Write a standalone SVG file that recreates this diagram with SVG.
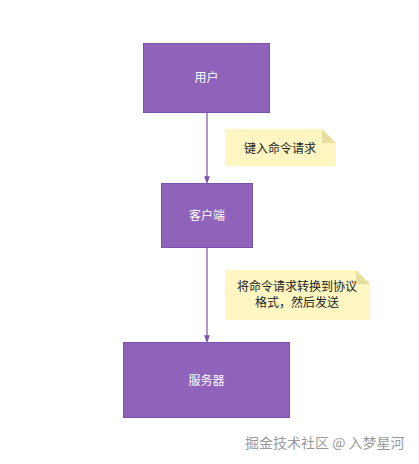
<svg xmlns="http://www.w3.org/2000/svg" width="419" height="464" viewBox="0 0 419 464">
<style>
.box{fill:#8e63b9;stroke:#7b52ad;stroke-width:1}
.bt{font-family:"Noto Sans CJK SC","Liberation Sans",sans-serif;font-size:12px;fill:#ffffff;text-anchor:middle}
.note{fill:#fff6c2;stroke:none}
.fold{fill:#e8dea0}
.nt{font-family:"Noto Sans CJK SC","Liberation Sans",sans-serif;font-size:12px;fill:#222222;text-anchor:middle}
.edge{stroke:#7b52ad;stroke-width:1.2;fill:none}
.wm{font-family:"Noto Sans CJK SC","Liberation Sans",sans-serif;font-size:14px;fill:#9a9a9a}
</style>
<defs>
<marker id="arr" markerWidth="8" markerHeight="11" refX="8" refY="4" orient="auto" markerUnits="userSpaceOnUse" viewBox="0 0 11 8">
<path d="M0,0 L11,4 L0,8 Z" fill="#7b52ad"/>
</marker>
</defs>
<rect width="419" height="464" fill="#ffffff"/>
<g id="connectors">
<line class="edge" x1="207" y1="112" x2="207" y2="182" marker-end="url(#arr)"/>
<line class="edge" x1="207" y1="247" x2="207" y2="341" marker-end="url(#arr)"/>
</g>
<g id="user">
<rect class="box" x="143.5" y="43.5" width="126" height="69"/>
<text class="bt" x="206.5" y="82">用户</text>
</g>
<g id="client">
<rect class="box" x="161.5" y="183.5" width="91" height="64"/>
<text class="bt" x="207" y="220">客户端</text>
</g>
<g id="server">
<rect class="box" x="123.5" y="342.5" width="166" height="75"/>
<text class="bt" x="206.5" y="385">服务器</text>
</g>
<g id="note1">
<path class="note" d="M225,129 H322 L336,143 V166 H225 Z"/>
<path class="fold" d="M322,129 L336,143 H322 Z"/>
<text class="nt" x="280" y="153">键入命令请求</text>
</g>
<g id="note2">
<path class="note" d="M225,270 H356 L370,284 V320 H225 Z"/>
<path class="fold" d="M356,270 L370,284 H356 Z"/>
<text class="nt" x="297" y="291">将命令请求转换到协议</text>
<text class="nt" x="297" y="307">格式，然后发送</text>
</g>
<text class="wm" x="245" y="448">掘金技术社区 @ 入梦星河</text>
</svg>
